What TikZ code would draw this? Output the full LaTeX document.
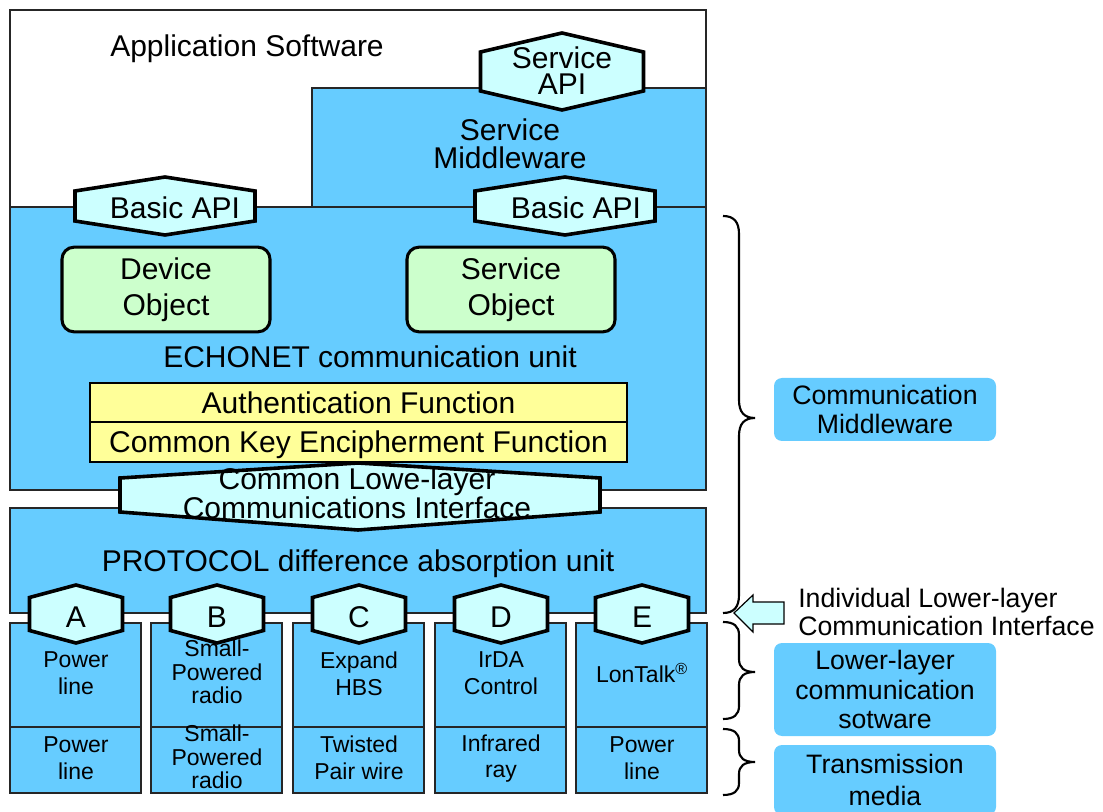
\documentclass[tikz,border=0pt]{standalone}
\usepackage{fontspec}
\setmainfont{Liberation Sans}
\usepackage{tikz}
\usetikzlibrary{positioning}
\definecolor{layerblue}{RGB}{102,204,255}
\definecolor{apicyan}{RGB}{204,255,255}
\definecolor{objgreen}{RGB}{204,255,204}
\definecolor{funcyellow}{RGB}{255,255,153}
% hexagon with vertical sides: cx, cy, half width, half height, shoulder
\newcommand{\apihex}[5]{%
  \draw[hexline] ({#1-#3},{#2-#5}) -- (#1,{#2-#4}) -- ({#1+#3},{#2-#5})
    -- ({#1+#3},{#2+#5}) -- (#1,{#2+#4}) -- ({#1-#3},{#2+#5}) -- cycle;}
% right-hand brace: top, tip, bottom, curl
\newcommand{\sidebrace}[4]{%
  \draw[grp] (723,#1) .. controls (734,#1) and (739,{#1+#4/3}) .. (739,{#1+#4})
    -- (739,{#2-#4}) .. controls (739,{#2-#4/3}) and (744,#2) .. (755,#2)
    .. controls (744,#2) and (739,{#2+#4/3}) .. (739,{#2+#4})
    -- (739,{#3-#4}) .. controls (739,{#3-#4/3}) and (734,#3) .. (723,#3);}

\begin{document}
\begin{tikzpicture}[x=0.75pt, y=-0.75pt,
  appbox/.style={draw=black!85, line width=1.2pt, fill=white},
  layer/.style={draw=black!85, line width=1.2pt, fill=layerblue},
  hexline/.style={draw=black, line width=2.7pt, fill=apicyan, line join=miter},
  obj/.style={draw=black, line width=2.3pt, fill=objgreen, rounded corners=9pt,
    minimum width=156pt, minimum height=63.5pt, align=center,
    font=\fontsize{22.5}{27}\selectfont},
  func/.style={draw=black, line width=2pt, fill=funcyellow, minimum width=402.75pt,
    font=\fontsize{22.5}{24}\selectfont},
  big/.style={font=\fontsize{22.5}{21}\selectfont, align=center, inner sep=0pt},
  small/.style={font=\fontsize{17.25}{20}\selectfont, align=center, inner sep=0pt},
  smalltight/.style={small, font=\fontsize{17.25}{17.6}\selectfont},
  side/.style={font=\fontsize{20}{21.5}\selectfont, align=center, inner sep=0pt},
  sidebox/.style={fill=layerblue, rounded corners=6pt, minimum width=166.5pt,
    font=\fontsize{20}{21.5}\selectfont, align=center},
  grp/.style={line width=1.6pt},
  pointer/.style={draw=black, line width=0.9pt, fill=apicyan},
]
\useasboundingbox (0,0) rectangle (1103,812);

% layers
\draw[appbox] (10,10) rectangle (706,207);
\draw[layer] (312,88) rectangle (706,207);
\draw[layer] (10,207) rectangle (706,490);
\draw[layer] (10,508) rectangle (706,613);

\foreach \lft in {10,151,293,435,576} {
  \draw[layer] (\lft,623) rectangle ({\lft+131},727);
  \draw[layer] (\lft,727) rectangle ({\lft+131},793);
}

% APIs
\apihex{562}{71.5}{81.5}{38.5}{19.5}
\node[big, font=\fontsize{22.5}{19.6}\selectfont] (sapi) at (562,71) {Service\\API};
\node[big] (appsw) at (247,49) {Application Software};
\node[big, font=\fontsize{22.5}{21}\selectfont] (smw) at (510,144) {Service\\Middleware};

\apihex{165}{206}{90}{29}{15}
\apihex{565}{206}{90}{29}{15}
\node[big] (bapil) at (175,208) {Basic API};
\node[big] (bapir) at (576,208) {Basic API};

% objects
\node[obj] (devobj) at (166,289.5) {Device\\Object};
\node[obj] (svcobj) at (511,289.5) {Service\\Object};
\node[big] (echo) at (370,357) {ECHONET communication unit};

\node[func, minimum height=29.25pt] (auth) at (358.5,402.5) {Authentication Function};
\node[func, minimum height=30pt, text depth=0pt] (ckey) at (358.5,442) {Common Key Encipherment Function};

% common lower-layer interface
\draw[hexline] (120,478) -- (358,463) -- (600,478) -- (600,512) -- (358,530) -- (120,512) -- cycle;
\node[big, font=\fontsize{22.5}{22}\selectfont] (clli) at (357,493)
  {Common Lowe-layer\\Communications Interface};

\node[big] (proto) at (358,564) {PROTOCOL difference absorption unit};

% individual interfaces
\apihex{76}{614}{46.5}{29}{16.5}
\apihex{217}{614}{46.5}{29}{16.5}
\apihex{359}{614}{46.5}{29}{16.5}
\apihex{501}{614}{46.5}{29}{16.5}
\apihex{642}{614}{46.5}{29}{16.5}
\node[big] (ifa) at (76,617) {A};
\node[big] (ifb) at (217,617) {B};
\node[big] (ifc) at (359,617) {C};
\node[big] (ifd) at (501,617) {D};
\node[big] (ife) at (642,617) {E};

% lower-layer software
\node[small] (swa) at (76,673.5) {Power\\line};
\node[smalltight] (swb) at (217,672) {Small-\\Powered\\radio};
\node[small] (swc) at (359,673.5) {Expand\\HBS};
\node[small] (swd) at (501,673.5) {IrDA\\Control};
\node[small] (swe) at (642,673) {LonTalk\textsuperscript{®}};

% media
\node[small] (mda) at (76,758.5) {Power\\line};
\node[smalltight] (mdb) at (217,757) {Small-\\Powered\\radio};
\node[small] (mdc) at (359,757.5) {Twisted\\Pair wire};
\node[small] (mdd) at (501,758.5) {Infrared\\ray};
\node[small] (mde) at (642,758.5) {Power\\line};

% right-hand side
\sidebrace{216}{418}{613}{18}
\sidebrace{622}{672}{719}{13}
\sidebrace{729}{762}{795}{12}

\node[sidebox, minimum height=47.25pt] (cmw) at (885,409.5) {Communication\\Middleware};
\node[sidebox, minimum height=69.75pt, font=\fontsize{20}{22}\selectfont] (llsw) at (885,689.5)
  {Lower-layer\\communication\\sotware};
\node[sidebox, minimum height=52.5pt, font=\fontsize{20}{24}\selectfont] (tmed) at (885,780)
  {Transmission\\media};

\draw[pointer] (784,602) -- (753,602) -- (753,595) -- (734,613) -- (753,632) -- (753,624) -- (784,624) -- cycle;
\node[side, anchor=west, align=left] (ilci) at (798,612)
  {Individual Lower-layer\\Communication Interface};
\end{tikzpicture}
\end{document}
